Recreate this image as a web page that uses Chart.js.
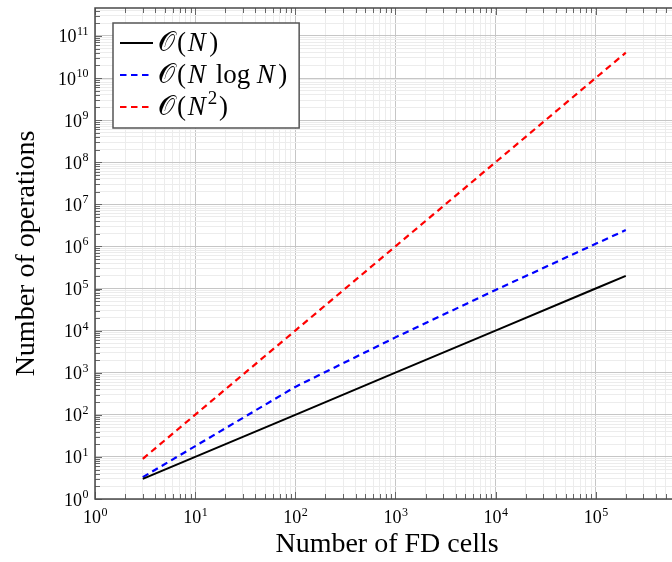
<!DOCTYPE html>
<html>
<head>
<meta charset="utf-8">
<script src="https://cdn.jsdelivr.net/npm/chart.js@4.4.1/dist/chart.umd.min.js"></script>
<style>
html, body { margin: 0; padding: 0; background: #fff; overflow: hidden; }
#wrap { width: 712px; height: 562px; }
</style>
</head>
<body>
<div id="wrap"><canvas id="chart" width="712" height="562"></canvas></div>
<script>
// Values
const cells = [3, 100, 1000, 10000, 100000, 200000];
const opsLinear = [3, 100, 1000, 10000, 100000, 200000];
const opsNLogN = [3.3, 460, 6900, 92000, 1150000, 2440000];
const opsQuad = [9, 10000, 1000000, 100000000, 10000000000, 40000000000];
const seriesLabels = ['𝒪(N)', '𝒪(N log N)', '𝒪(N²)'];
const xDecades = [0, 1, 2, 3, 4, 5];
const yDecades = [0, 1, 2, 3, 4, 5, 6, 7, 8, 9, 10, 11];
const xMax = 6.8e5;
const yMax = 4.6e11;

const SERIF = '"Liberation Serif", "DejaVu Serif", serif';

function points(ys) {
    return cells.map((x, i) => ({ x: x, y: ys[i] }));
}

// 1..9 x 10^e ticks, like a pgfplots log grid
function logTicks(min, max) {
    const out = [];
    const e0 = Math.floor(Math.log10(min));
    const e1 = Math.ceil(Math.log10(max));
    for (let e = e0; e <= e1; e++) {
        for (let m = 1; m <= 9; m++) {
            const v = m * Math.pow(10, e);
            if (v >= min * 0.999 && v <= max * 1.001) out.push({ value: v });
        }
    }
    return out;
}

function isDecade(v) {
    const l = Math.log10(v);
    return Math.abs(l - Math.round(l)) < 1e-9;
}

function gridColor(ctx) {
    if (!ctx.tick) return '#ededed';
    return isDecade(ctx.tick.value) ? '#c6c6c6' : '#ececec';
}

// "10" with a raised exponent
function powerLabel(ctx, e, x, y, align) {
    ctx.font = '18px ' + SERIF;
    const wb = ctx.measureText('10').width;
    ctx.font = '12px ' + SERIF;
    const we = ctx.measureText(String(e)).width;
    let x0 = align === 'right' ? x - wb - we : x - (wb + we) / 2;
    ctx.fillStyle = '#000';
    ctx.textAlign = 'left';
    ctx.textBaseline = 'alphabetic';
    ctx.font = '18px ' + SERIF;
    ctx.fillText('10', x0, y);
    ctx.font = '12px ' + SERIF;
    ctx.fillText(String(e), x0 + wb + 0.5, y - 7.5);
}

// math-ish text: N italic, ² raised, "log" upright, thin spaces
function mathText(ctx, text, x, y, size, draw) {
    let cx = x;
    const chars = Array.from(text);
    chars.forEach((ch, i) => {
        if (ch === ' ') { cx += size * 0.24; return; }
        let font = size + 'px ' + SERIF;
        let dy = 0;
        let t = ch;
        if (ch === 'N') font = 'italic ' + size + 'px ' + SERIF;
        if (ch === '²') { t = '2'; font = Math.round(size * 0.7) + 'px ' + SERIF; dy = -size * 0.42; }
        ctx.font = font;
        if (draw) ctx.fillText(t, cx, y + dy);
        cx += ctx.measureText(t).width;
        if (!/[a-z]/.test(ch)) cx += size * 0.07;
        if (ch === 'N' && chars[i + 1] !== '²') cx += size * 0.06;
    });
    return cx - x;
}

const framePlugin = {
    id: 'frame',
    afterDraw(chart) {
        const ctx = chart.ctx;
        const a = chart.chartArea;
        const xs = chart.scales.x, ys = chart.scales.y;
        ctx.save();
        // inward ticks
        ctx.strokeStyle = '#666';
        ctx.lineWidth = 1;
        xs.ticks.forEach(t => {
            const px = Math.round(xs.getPixelForValue(t.value)) + 0.5;
            const len = isDecade(t.value) ? 7 : 5;
            ctx.beginPath();
            ctx.moveTo(px, a.bottom); ctx.lineTo(px, a.bottom - len);
            ctx.moveTo(px, a.top); ctx.lineTo(px, a.top + len);
            ctx.stroke();
        });
        ys.ticks.forEach(t => {
            const py = Math.round(ys.getPixelForValue(t.value)) + 0.5;
            const len = isDecade(t.value) ? 7 : 5;
            ctx.beginPath();
            ctx.moveTo(a.left, py); ctx.lineTo(a.left + len, py);
            ctx.moveTo(a.right, py); ctx.lineTo(a.right - len, py);
            ctx.stroke();
        });
        // axis frame
        ctx.strokeStyle = '#4a4a4a';
        ctx.lineWidth = 1.5;
        ctx.strokeRect(a.left, a.top, a.right - a.left, a.bottom - a.top);

        // tick labels
        xDecades.forEach(e => {
            powerLabel(ctx, e, xs.getPixelForValue(Math.pow(10, e)), a.bottom + 24, 'center');
        });
        yDecades.forEach(e => {
            powerLabel(ctx, e, a.left - 7, ys.getPixelForValue(Math.pow(10, e)) + 6.5, 'right');
        });

        // legend
        const size = 27;
        const left = a.left + 18, top = a.top + 15;
        const rowH = 32;
        let maxW = 0;
        chart.data.datasets.forEach(ds => {
            maxW = Math.max(maxW, mathText(ctx, ds.label, 0, 0, size, false));
        });
        const w = 45 + maxW + 10;
        const h = rowH * chart.data.datasets.length + 9;
        ctx.fillStyle = '#fff';
        ctx.fillRect(left, top, w, h);
        ctx.strokeStyle = '#555';
        ctx.lineWidth = 1.5;
        ctx.strokeRect(left, top, w, h);
        chart.data.datasets.forEach((ds, i) => {
            const cy = top + 20 + i * rowH;
            ctx.strokeStyle = ds.borderColor;
            ctx.lineWidth = ds.borderWidth;
            ctx.setLineDash(ds.borderDash || []);
            ctx.beginPath();
            ctx.moveTo(left + 7, cy);
            ctx.lineTo(left + 40, cy);
            ctx.stroke();
            ctx.setLineDash([]);
            ctx.fillStyle = '#000';
            ctx.textAlign = 'left';
            ctx.textBaseline = 'alphabetic';
            mathText(ctx, ds.label, left + 45, cy + 8, size, true);
        });
        ctx.restore();
    }
};

new Chart(document.getElementById('chart'), {
    type: 'line',
    data: {
        datasets: [
            { label: seriesLabels[0], data: points(opsLinear), borderColor: '#000000', borderWidth: 2, pointRadius: 0, tension: 0 },
            { label: seriesLabels[1], data: points(opsNLogN), borderColor: '#0000ff', borderWidth: 2.2, borderDash: [6.5, 4.5], pointRadius: 0, tension: 0 },
            { label: seriesLabels[2], data: points(opsQuad), borderColor: '#ff0000', borderWidth: 2.2, borderDash: [6.5, 4.5], pointRadius: 0, tension: 0 }
        ]
    },
    options: {
        responsive: false,
        animation: false,
        devicePixelRatio: 1,
        layout: { padding: { left: 0, right: 33, top: 8, bottom: 0 } },
        plugins: { legend: { display: false }, tooltip: { enabled: false } },
        scales: {
            x: {
                type: 'logarithmic',
                min: 1,
                max: xMax,
                afterBuildTicks: s => { s.ticks = logTicks(1, xMax); },
                afterFit: s => { s.height = 63; },
                ticks: { display: false },
                grid: { color: gridColor, lineWidth: 1, drawTicks: false },
                border: { display: false },
                title: { display: true, text: 'Number of FD cells', color: '#000', font: { family: SERIF, size: 28 }, padding: { top: 0, bottom: 1 } }
            },
            y: {
                type: 'logarithmic',
                min: 1,
                max: yMax,
                afterBuildTicks: s => { s.ticks = logTicks(1, yMax); },
                afterFit: s => { s.width = 95; },
                ticks: { display: false },
                grid: { color: gridColor, lineWidth: 1, drawTicks: false },
                border: { display: false },
                title: { display: true, text: 'Number of operations', color: '#000', font: { family: SERIF, size: 28 }, padding: { top: 10, bottom: 0 } }
            }
        }
    },
    plugins: [framePlugin]
});
</script>
</body>
</html>
